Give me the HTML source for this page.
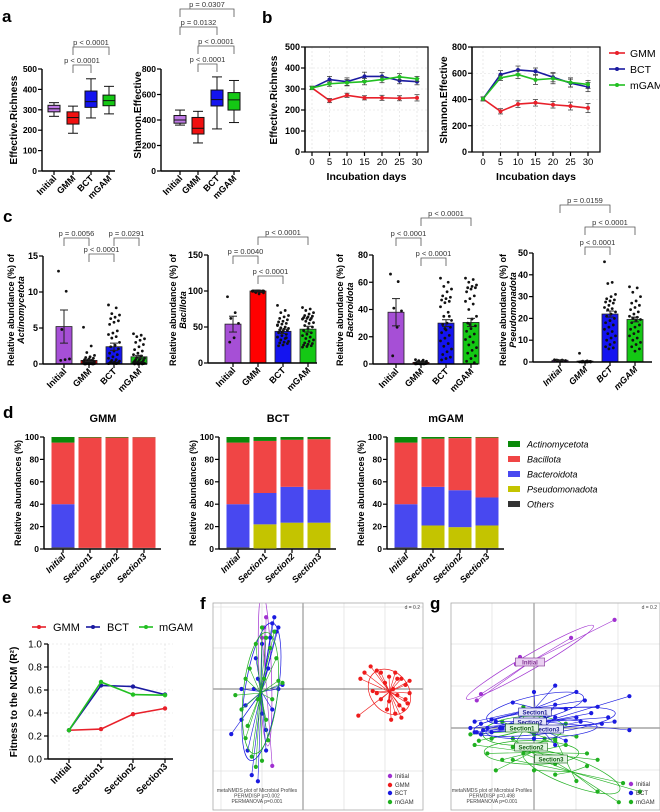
<!DOCTYPE html>
<html><head><meta charset="utf-8">
<style>html,body{margin:0;background:#fff;width:660px;height:812px;overflow:hidden}svg{display:block;font-family:"Liberation Sans",Arial,sans-serif}</style>
</head><body>
<svg id="fig" width="660" height="812" viewBox="0 0 660 812"></svg>
<script>
// ---------- DATA ----------
const groups=['Initial','GMM','BCT','mGAM'];
// panel a
const richMin=[268,185,260,280], richQ1=[290,230,312,320], richMed=[305,262,340,345], richQ3=[322,290,392,372], richMax=[335,318,452,415];
const shanMin=[360,220,330,380], shanQ1=[375,290,510,478], shanMed=[400,335,560,558], shanQ3=[435,420,635,615], shanMax=[478,468,738,710];
// panel b
const days=[0,5,10,15,20,25,30];
const richGMM=[305,245,270,258,258,256,258], richBCT=[305,345,335,360,360,340,335], richMGAM=[305,325,330,335,345,358,348];
const richGMMse=[8,10,10,10,12,12,15], richBCTse=[8,15,18,20,18,15,15], richMGAMse=[8,12,15,15,15,15,12];
const shanGMM=[405,310,365,375,360,350,335], shanBCT=[405,590,625,615,570,525,495], shanMGAM=[405,565,590,550,560,530,515];
const shanGMMse=[15,20,25,25,25,30,35], shanBCTse=[15,30,30,25,35,30,35], shanMGAMse=[15,20,30,35,40,35,30];
// panel c
const actMean=[5.2,0.5,2.4,1.0], actSem=[2.3,0.15,0.5,0.2];
const bacMean=[54,100,44,47], bacSem=[11,0.3,3,4];
const bctdMean=[38,1.2,30,30.5], bctdSem=[10,0.3,2.5,3];
const pseMean=[0.8,0.4,22,19.5], pseSem=[0.2,0.1,1.4,1.1];
const actDots=[[12.9,10.1,4.8,0.7,0.6,0.5],[5.1,2.5,1.6,1.2,1.0,0.9,0.8,0.7,0.6,0.5,0.5,0.4,0.4,0.3,0.3,0.3,0.2,0.2,0.2,0.1,0.1,0.1,0.1,0.05,0.05,0.05,0.05,0,0,0,0,0],[8.2,7.8,7.0,6.8,6.5,6.3,6.0,5.8,5.5,4.6,4.3,4.1,3.8,3.6,3.0,2.6,2.4,2.1,1.8,1.5,1.3,1.0,0.8,0.6,0.5,0.4,0.3,0.3,0.2,0.2,0.1,0.1,0.1,0.05,0.05],[4.2,4.0,3.8,3.5,3.3,3.0,2.7,2.4,2.0,1.8,1.5,1.3,1.1,0.9,0.8,0.7,0.6,0.5,0.5,0.4,0.3,0.3,0.2,0.2,0.2,0.1,0.1,0.1,0.05,0.05,0,0,0]];
const bacDots=[[92,70,62,55,35,29],[100,100,99.8,99.9,100,99.5,99.7,100,99.9,99.6,100,99.8,99.4,100,99.9,100,99.7,99.8,100,99.9,99.5,100,99.6,99.8,98,97.5,96,100,99.9,100],[80,73,70,66,64,62,60,58,57,55,54,52,50,49,48,47,46,45,44,42,40,38,36,34,32,30,29,28,27,25,24,35,43,53],[77,75,73,70,68,66,65,64,63,62,62,61,60,58,56,55,52,50,48,45,42,40,38,36,34,32,30,28,27,26,25,24,23,22]];
const bctdDots=[[66,60.5,41,39,27,6],[3.2,2.8,2.5,2,1.8,1.5,1.3,1.2,1,1,0.8,0.7,0.6,0.5,0.5,0.4,0.3,0.3,0.2,0.2,0.1,0.1,0.1,0.1],[63,60,57,55,53,50,49,48,47,46,45,42,38,35,32,30,29,27,25,23,21,19,17,15,13,11,9,7,5,4,3,35,26],[63,62,60,58,57,56,56,55,53,50,48,46,44,40,35,33,30,28,26,24,22,20,18,16,14,12,10,8,6,4,2,1,29]];
const pseDots=[[1.0,0.9,0.8,0.7,0.6,0.9],[4,0.5,0.4,0.3,0.3,0.2,0.2,0.1,0.1,0.1,0.05,0.05,0,0,0,0,0],[46,36.5,36,31,30,29,28.5,28,27.5,27,26,25,24.5,24,23,22,21,20,19,18,17,16,15,14,13,12,11,10,9,8,7,6.5,6],[34.5,34,32,30,28,27,26,25,24,23,22,21,20.5,20,19.5,19,18,17,16,15,14,13,12,11,10,9,8,7,6,5]];
// panel d (order bottom -> top)
const stackCats=['Initial','Section1','Section2','Section3'];
const taxa=['Others','Pseudomonadota','Bacteroidota','Bacillota','Actinomycetota'];
const gmmOthers=[1.5,1,1,1], gmmPseudo=[0,0,0,0], gmmBactero=[38.5,0,0,0], gmmBacillota=[55,98.5,98.5,98.8], gmmActino=[5,0.5,0.5,0.2];
const bctOthers=[1.5,0.5,1,1], bctPseudo=[0,21.5,22.5,22.5], bctBactero=[38.5,28,32,29.5], bctBacillota=[55,46.5,42,45], bctActino=[5,3.5,2.5,2];
const mgamOthers=[1.5,1,1,1], mgamPseudo=[0,20,18.5,20], mgamBactero=[38.5,34.5,33,25], mgamBacillota=[55,43,46.5,53.5], mgamActino=[5,1.5,1,0.5];
// panel e
const ncmCats=['Initial','Section1','Section2','Section3'];
const ncmGMM=[0.25,0.26,0.39,0.44], ncmBCT=[0.25,0.64,0.63,0.56], ncmMGAM=[0.25,0.67,0.56,0.555];
// panel f (NMDS units)
const fInitX=[-0.15,-0.2,-0.18,-0.17,-0.22,-0.19], fInitY=[-0.375,0.25,0.35,0.1,-0.05,0.3];
const fGmmX=[0.28,0.3,0.33,0.36,0.38,0.4,0.42,0.45,0.48,0.5,0.52,0.5,0.47,0.45,0.43,0.41,0.38,0.36,0.44,0.46,0.49,0.52,0.46,0.42,0.27,0.34,0.48,0.51];
const fGmmY=[0.05,0.08,0.11,0.09,0.08,0.03,0.06,0.08,0.05,0.02,-0.02,-0.05,-0.08,-0.12,-0.15,-0.1,-0.05,-0.02,0.0,-0.03,-0.1,0.04,0.05,-0.06,-0.13,-0.01,-0.14,-0.07];
const fBctX=[-0.35,-0.3,-0.27,-0.25,-0.22,-0.18,-0.15,-0.12,-0.12,-0.14,-0.15,-0.16,-0.2,-0.22,-0.24,-0.1,-0.3,-0.2,-0.17,-0.13,-0.28,-0.18,-0.23];
const fBctY=[-0.22,-0.15,-0.3,-0.42,-0.45,-0.2,-0.1,0.0,0.3,0.35,0.32,0.25,0.22,0.05,0.0,0.02,0.0,-0.12,0.1,0.28,-0.08,-0.3,0.15];
const fGamX=[-0.33,-0.3,-0.28,-0.25,-0.23,-0.2,-0.18,-0.15,-0.1,-0.12,-0.16,-0.18,-0.2,-0.23,-0.26,-0.28,-0.22,-0.14,-0.19,-0.27,-0.13,-0.17];
const fGamY=[-0.03,-0.1,-0.24,-0.33,-0.38,-0.35,-0.15,-0.05,0.03,0.04,0.2,0.25,0.3,0.22,0.1,0.05,-0.05,0.28,0.05,-0.18,0.15,-0.25];
// panel g
const gInitX=[0.38,0.175,-0.066,-0.085,-0.25,-0.27], gInitY=[0.51,0.425,0.335,0.30,0.16,0.13];
const gB1X=[-0.28,-0.25,-0.2,-0.1,0.0,0.1,0.2,0.24,0.3,0.15,0.05,-0.15], gB1Y=[0.03,0.02,0.04,0.12,0.17,0.2,0.17,0.13,0.1,0.09,0.06,0.0];
const gB2X=[-0.3,-0.27,-0.22,-0.18,0.1,0.2,0.27,0.35,0.45,0.45,0.0,-0.25], gB2Y=[0.0,-0.02,0.0,0.03,0.11,0.05,0.07,0.05,0.15,-0.01,-0.05,-0.03];
const gB3X=[-0.28,-0.24,-0.2,-0.16,0.1,0.22,0.32,0.38,0.1,0.15,0.0], gB3Y=[-0.02,-0.01,-0.02,0.0,0.05,0.03,0.02,0.03,-0.08,-0.06,-0.01];
const gG1X=[-0.3,-0.26,-0.2,-0.15,-0.05,0.05,0.15,0.2,0.1,-0.1,0.0], gG1Y=[-0.03,-0.06,-0.05,0.03,0.1,0.07,0.02,-0.04,-0.06,-0.09,-0.03];
const gG2X=[-0.28,-0.22,-0.15,-0.05,0.05,0.15,0.25,0.3,0.1,-0.1,-0.18], gG2Y=[-0.08,-0.12,-0.15,-0.1,-0.05,-0.08,-0.12,-0.15,-0.17,-0.05,-0.2];
const gG3X=[-0.1,0.0,0.1,0.2,0.3,0.4,0.42,0.5,0.0,-0.05,0.25,0.1], gG3Y=[-0.15,-0.2,-0.22,-0.25,-0.3,-0.35,-0.26,-0.3,-0.1,-0.12,-0.18,-0.05];

// ---------- HELPERS ----------
const NS='http://www.w3.org/2000/svg';
const root=document.getElementById('fig');
function mk(tag,attrs,parent){const e=document.createElementNS(NS,tag);for(const k in attrs)e.setAttribute(k,attrs[k]);(parent||root).appendChild(e);return e;}
function nm(e,name){
  
  
  return e;}
function grp(name,parent){const g=mk('g',{},parent);nm(g,name);return g;}
function line(p,x1,y1,x2,y2,st,w,dash){const l=mk('line',{x1:x1,y1:y1,x2:x2,y2:y2,stroke:st||'#000','stroke-width':w||1},p);if(dash)l.setAttribute('stroke-dasharray',dash);return l;}
function text(p,x,y,s,o){o=o||{};const t=mk('text',{x:x,y:y,'font-size':o.size||9,'font-weight':o.weight||'bold','text-anchor':o.anchor||'middle',fill:o.fill||'#000','font-style':o.style||'normal'},p);if(o.rot!=null)t.setAttribute('transform','rotate('+o.rot+' '+x+' '+y+')');t.textContent=s;return t;}
function lin(d0,d1,r0,r1){return v=>r0+(v-d0)/(d1-d0)*(r1-r0);}
function yAxis(p,x,y,max,step,size){line(p,x,y(max),x,y(0),'#000',1.4);for(let v=0;v<=max+1e-9;v+=step){line(p,x-4,y(v),x,y(v),'#000',1.2);const t=text(p,x-5,y(v)+3,String(Math.round(v*10)/10),{anchor:'end',size:size||9});nm(t,'y-tick-label');}}
function bracket(p,x1,x2,y,label){const pa=mk('path',{d:`M${x1} ${y+8}V${y}H${x2}V${y+8}`,fill:'none',stroke:'#555','stroke-width':0.8},p);nm(pa,'significance-bracket');const t=text(p,(x1+x2)/2,y-2,label,{size:7.5,weight:'normal',fill:'#333'});nm(t,'p-value-label');}
function catLabels(p,centers,y0,labels,style,size){labels.forEach((s,i)=>{const t=text(p,centers[i]+3,y0+8,s,{anchor:'end',rot:-45,size:size||9,style:style||'normal'});nm(t,'x-tick-label');});}
function panelLetter(x,y,s){const t=text(root,x,y,s,{size:17,anchor:'start'});nm(t,'panel-label');}

// ---------- PANEL A ----------
const boxFill=['#c07ae6','#f01010','#1414ee','#14c814'];
function boxPanel(name,axisX,axisEnd,centers,ymax,step,mn,q1,md,q3,mx,ylab,ylx,yly){
  const g=grp(name);const y=lin(0,ymax,171,69);
  yAxis(g,axisX,y,ymax,step,8.5);
  line(g,axisX,171,axisEnd,171,'#000',1.4);
  centers.forEach((c,i)=>{
    line(g,c,171,c,175,'#000',1.2);
    const w=line(g,c,y(mn[i]),c,y(mx[i]),'#111',1);nm(w,'whisker');
    line(g,c-5,y(mn[i]),c+5,y(mn[i]),'#111',1);line(g,c-5,y(mx[i]),c+5,y(mx[i]),'#111',1);
    const r=mk('rect',{x:c-6,y:y(q3[i]),width:12,height:y(q1[i])-y(q3[i]),fill:boxFill[i],stroke:'#111','stroke-width':1},g);nm(r,'box-'+groups[i].toLowerCase());
    line(g,c-6,y(md[i]),c+6,y(md[i]),'#111',1);
  });
  catLabels(g,centers,171,groups);
  const t=text(g,ylx,yly,ylab,{size:10,rot:-90});nm(t,'y-axis-title');
  return g;
}
panelLetter(2,22,'a');
const a1=boxPanel('richness-boxplot',42,115,[54,73,91,109],500,100,richMin,richQ1,richMed,richQ3,richMax,'Effective.Richness',17,120);
bracket(a1,73,91,65,'p < 0.0001');bracket(a1,73,109,47,'p < 0.0001');
const a2=boxPanel('shannon-boxplot',161,240,[180,198,217,234],800,200,shanMin,shanQ1,shanMed,shanQ3,shanMax,'Shannon.Effective',141,115);
bracket(a2,198,217,64,'p < 0.0001');bracket(a2,198,234,46,'p < 0.0001');bracket(a2,180,217,27,'p = 0.0132');bracket(a2,180,234,9,'p = 0.0307');

// ---------- PANEL B ----------
const lineCols={GMM:'#e8202a',BCT:'#1a1aa0',mGAM:'#22c022'};
function linePanel(name,fx0,fx1,x0px,x30px,ymax,step,series,ylab,ylx){
  const g=grp(name);const y=lin(0,ymax,152,47);const x=lin(0,30,x0px,x30px);
  for(let v=0;v<=ymax;v+=step)line(g,fx0,y(v),fx1,y(v),'#ddd',0.6,'2,2');
  days.forEach(d=>line(g,x(d),47,x(d),152,'#ddd',0.6,'2,2'));
  const fr=mk('rect',{x:fx0,y:47,width:fx1-fx0,height:105,fill:'none',stroke:'#000','stroke-width':1.2},g);nm(fr,'plot-frame');
  yAxis(g,fx0,y,ymax,step);
  days.forEach(d=>{line(g,x(d),152,x(d),156,'#000',1.2);const t=text(g,x(d),165,String(d),{weight:'normal',size:9.5});nm(t,'x-tick-label');});
  series.forEach(s=>{
    const sg=grp('series-'+s.name.toLowerCase(),g);
    const pl=mk('polyline',{points:days.map((d,i)=>x(d)+','+y(s.v[i])).join(' '),fill:'none',stroke:lineCols[s.name],'stroke-width':1.6},sg);nm(pl,'line');
    days.forEach((d,i)=>{const e1=line(sg,x(d),y(s.v[i]-s.e[i]),x(d),y(s.v[i]+s.e[i]),'#444',0.8);nm(e1,'error-bar');
      line(sg,x(d)-2.5,y(s.v[i]-s.e[i]),x(d)+2.5,y(s.v[i]-s.e[i]),'#444',0.8);line(sg,x(d)-2.5,y(s.v[i]+s.e[i]),x(d)+2.5,y(s.v[i]+s.e[i]),'#444',0.8);
      const c=mk('circle',{cx:x(d),cy:y(s.v[i]),r:2,fill:lineCols[s.name]},sg);nm(c,'point');});
  });
  const t=text(g,ylx,100,ylab,{size:10,rot:-90});nm(t,'y-axis-title');
  const xt=text(g,(fx0+fx1)/2,180,'Incubation days',{size:10.5});nm(xt,'x-axis-title');
}
panelLetter(262,23,'b');
linePanel('richness-timecourse',305,428,312,417,500,100,[{name:'GMM',v:richGMM,e:richGMMse},{name:'BCT',v:richBCT,e:richBCTse},{name:'mGAM',v:richMGAM,e:richMGAMse}],'Effective.Richness',277);
linePanel('shannon-timecourse',472,600,483,588,800,200,[{name:'GMM',v:shanGMM,e:shanGMMse},{name:'BCT',v:shanBCT,e:shanBCTse},{name:'mGAM',v:shanMGAM,e:shanMGAMse}],'Shannon.Effective',447);
{const lg=grp('timecourse-legend');['GMM','BCT','mGAM'].forEach((n,i)=>{const yy=53+i*16;line(lg,609,yy,625,yy,lineCols[n],1.6);mk('circle',{cx:617,cy:yy,r:2,fill:lineCols[n]},lg);const t=text(lg,630,yy+4,n,{anchor:'start',weight:'normal',size:10.5});nm(t,'legend-entry');});}

// ---------- PANEL C ----------
const barFill=['#a64fd6','#ff0000','#1414f0','#14c814'];
function barPanel(name,axisX,axisEnd,centers,y0,yTop,max,step,means,sems,dots,lab2,ylx,italicLabels){
  const g=grp(name);const y=lin(0,max,y0,yTop);
  yAxis(g,axisX,y,max,step,9);
  centers.forEach((c,i)=>{
    const r=mk('rect',{x:c-8,y:y(means[i]),width:16,height:y0-y(means[i]),fill:barFill[i],stroke:'#222','stroke-width':0.8},g);nm(r,'bar-'+groups[i].toLowerCase());
    dots[i].forEach((v,j)=>{const dx=(((j*7)%11)-5)*1.1;const d=mk('circle',{cx:c+dx,cy:y(v),r:1.4,fill:'#111'},g);nm(d,'sample-dot');});
    const e=line(g,c,y(means[i]-sems[i]),c,y(means[i]+sems[i]),'#222',1);nm(e,'error-bar');
    line(g,c-4,y(means[i]+sems[i]),c+4,y(means[i]+sems[i]),'#222',1);line(g,c-4,y(means[i]-sems[i]),c+4,y(means[i]-sems[i]),'#222',1);
    line(g,c,y0,c,y0+4,'#000',1.2);
  });
  line(g,axisX,y0,axisEnd,y0,'#000',1.4);
  catLabels(g,centers,y0,groups,italicLabels?'italic':'normal');
  const cy=310;
  const t1=text(g,ylx,cy,'Relative abundance (%) of',{size:9,rot:-90});nm(t1,'y-axis-title');
  const t2=text(g,ylx+10,cy,lab2,{size:9,rot:-90,style:'italic'});nm(t2,'y-axis-title-taxon');
  return g;
}
panelLetter(3,222,'c');
const c1=barPanel('actinomycetota-bars',43,147,[64,89,114,139],364,256,15,5,actMean,actSem,actDots,'Actinomycetota',14);
bracket(c1,64,89,238,'p = 0.0056');bracket(c1,114,139,238,'p = 0.0291');bracket(c1,89,114,254,'p < 0.0001');
const c2=barPanel('bacillota-bars',208,317,[233,258,283,308],363,255,150,50,bacMean,bacSem,bacDots,'Bacillota',176);
bracket(c2,258,308,237,'p < 0.0001');bracket(c2,233,258,256,'p = 0.0040');bracket(c2,258,283,276,'p < 0.0001');
const c3=barPanel('bacteroidota-bars',373,478,[396,421,446,471],364,255,80,20,bctdMean,bctdSem,bctdDots,'Bacteroidota',343);
bracket(c3,421,471,218,'p < 0.0001');bracket(c3,396,421,238,'p < 0.0001');bracket(c3,421,446,258,'p < 0.0001');
const c4=barPanel('pseudomonadota-bars',533,652,[560,585,610,635],362,253,50,10,pseMean,pseSem,pseDots,'Pseudomonadota',506,true);
bracket(c4,560,610,205,'p = 0.0159');bracket(c4,585,635,227,'p < 0.0001');bracket(c4,585,610,247,'p < 0.0001');

// ---------- PANEL D ----------
const taxCol={Others:'#333333',Pseudomonadota:'#c4c400',Bacteroidota:'#4848f0',Bacillota:'#f04545',Actinomycetota:'#0a8a0a'};
function stackPanel(name,axisX,title,layers){
  const g=grp(name);const y=lin(0,100,549,437);
  yAxis(g,axisX,y,100,20,8.5);
  line(g,axisX,549,axisX+117,549,'#000',1.4);
  const centers=stackCats.map((c,i)=>axisX+19+i*27);
  stackCats.forEach((c,i)=>{
    let acc=0;
    layers.forEach((arr,k)=>{const v=arr[i];const r=mk('rect',{x:centers[i]-11.5,y:y(acc+v),width:23,height:y(acc)-y(acc+v),fill:taxCol[taxa[k]]},g);nm(r,'segment-'+taxa[k].toLowerCase());acc+=v;});
    line(g,centers[i],549,centers[i],553,'#000',1.2);
  });
  catLabels(g,centers,549,stackCats,'italic',9);
  const tt=text(g,axisX+59,422,title,{size:11});nm(tt,'chart-title');
  const yt=text(g,axisX-23,493,'Relative abundances (%)',{size:9,rot:-90});nm(yt,'y-axis-title');
}
panelLetter(3,418,'d');
stackPanel('gmm-composition',44,'GMM',[gmmOthers,gmmPseudo,gmmBactero,gmmBacillota,gmmActino]);
stackPanel('bct-composition',219,'BCT',[bctOthers,bctPseudo,bctBactero,bctBacillota,bctActino]);
stackPanel('mgam-composition',387,'mGAM',[mgamOthers,mgamPseudo,mgamBactero,mgamBacillota,mgamActino]);
{const lg=grp('taxa-legend');['Actinomycetota','Bacillota','Bacteroidota','Pseudomonadota','Others'].forEach((n,i)=>{const yy=444+i*15;const r=mk('rect',{x:508,y:yy-3,width:12,height:6,fill:taxCol[n]},lg);nm(r,'legend-swatch');const t=text(lg,527,yy+3.5,n,{anchor:'start',weight:'normal',style:'italic',size:9});nm(t,'legend-entry');});}

// ---------- PANEL E ----------
panelLetter(2,603,'e');
{const g=grp('ncm-fitness-chart');const y=lin(0,1,759,644);const x=i=>69+i*32;
  for(let v=0.2;v<=1.0001;v+=0.2)line(g,48,y(v),173,y(v),'#ddd',0.6,'2,2');
  ncmCats.forEach((c,i)=>line(g,x(i),644,x(i),759,'#ddd',0.6,'2,2'));
  line(g,48,644,48,759,'#000',1.4);
  for(let k=0;k<=5;k++){const v=k*0.2;line(g,44,y(v),48,y(v),'#000',1.2);const t=text(g,42,y(v)+3.5,v.toFixed(1),{anchor:'end',weight:'normal',size:10});nm(t,'y-tick-label');}
  line(g,48,759,173,759,'#000',1.4);
  ncmCats.forEach((c,i)=>line(g,x(i),759,x(i),763,'#000',1.2));
  catLabels(g,ncmCats.map((c,i)=>x(i)),759,ncmCats,'normal',9.5);
  [['GMM',ncmGMM],['BCT',ncmBCT],['mGAM',ncmMGAM]].forEach(([n,v])=>{const sg=grp('series-'+n.toLowerCase(),g);
    const pl=mk('polyline',{points:v.map((d,i)=>x(i)+','+y(d)).join(' '),fill:'none',stroke:lineCols[n],'stroke-width':1.6},sg);nm(pl,'line');
    v.forEach((d,i)=>{const c=mk('circle',{cx:x(i),cy:y(d),r:2.2,fill:lineCols[n]},sg);nm(c,'point');});});
  const t=text(g,17,702,'Fitness to the NCM (R²)',{size:10,rot:-90});nm(t,'y-axis-title');
  [['GMM',32,53],['BCT',86,107],['mGAM',139,159]].forEach(([n,lx,tx])=>{line(g,lx,627,lx+14,627,lineCols[n],1.6);mk('circle',{cx:lx+7,cy:627,r:2,fill:lineCols[n]},g);const tt=text(g,tx,631,n,{anchor:'start',weight:'normal',size:11});nm(tt,'legend-entry');});
}

// ---------- PANELS F, G ----------
function ordFrame(name,x0,x1,ox,oy,sp){
  const g=grp(name);
  const cid='clip-'+name;const cp=mk('clipPath',{id:cid},g);mk('rect',{x:x0,y:603,width:x1-x0,height:207},cp);
  const inner=mk('g',{'clip-path':'url(#'+cid+')'},g);nm(inner,'plot-area');
  for(let k=-6;k<=6;k++){if(k===0)continue;line(inner,ox+k*sp,603,ox+k*sp,810,'#e2e2e2',0.8);line(inner,x0,oy+k*sp,x1,oy+k*sp,'#e2e2e2',0.8);}
  line(inner,ox,603,ox,810,'#777',0.9);line(inner,x0,oy,x1,oy,'#777',0.9);
  const fr=mk('rect',{x:x0,y:603,width:x1-x0,height:207,fill:'none',stroke:'#aaa','stroke-width':0.8},g);nm(fr,'plot-frame');
  const dt=text(g,x1-3,609,'d = 0.2',{anchor:'end',weight:'normal',size:5,fill:'#444'});nm(dt,'scale-label');
  return inner;
}
function cluster(p,xs,ys,ox,oy,sc,col,name,k){
  const g=grp(name,p);
  const px=xs.map(v=>ox+v*sc), py=ys.map(v=>oy-v*sc);const n=px.length;
  const mx=px.reduce((a,b)=>a+b)/n, my=py.reduce((a,b)=>a+b)/n;
  let a=0,b=0,c=0;for(let i=0;i<n;i++){a+=(px[i]-mx)**2;c+=(py[i]-my)**2;b+=(px[i]-mx)*(py[i]-my);}a/=n;b/=n;c/=n;
  const tr=(a+c)/2, dd=Math.sqrt(Math.max(0,((a-c)/2)**2+b*b));const l1=tr+dd,l2=Math.max(tr-dd,1);
  const ang=0.5*Math.atan2(2*b,a-c)*180/Math.PI;
  const el=mk('ellipse',{cx:mx,cy:my,rx:k*Math.sqrt(l1),ry:k*Math.sqrt(l2),transform:`rotate(${ang} ${mx} ${my})`,fill:'none',stroke:col,'stroke-width':0.7},g);nm(el,'confidence-ellipse');
  for(let i=0;i<n;i++){const s=line(g,mx,my,px[i],py[i],col,0.6);nm(s,'spider-line');}
  for(let i=0;i<n;i++){const d=mk('circle',{cx:px[i],cy:py[i],r:2.1,fill:col},g);nm(d,'sample-point');}
  return [mx,my];
}
function boxLabel(p,x,y,s,col,fill){const w=s.length*3.6+4;const r=mk('rect',{x:x-w/2,y:y-4,width:w,height:8,fill:fill,stroke:col,'stroke-width':0.6},p);nm(r,'cluster-label-box');const t=text(p,x,y+2.3,s,{size:6,fill:col});nm(t,'cluster-label');}
function ordLegend(p,x,ys,items){items.forEach(([n,c],i)=>{const d=mk('circle',{cx:x,cy:ys[i],r:2.2,fill:c},p);nm(d,'legend-marker');const t=text(p,x+5,ys[i]+2,n,{anchor:'start',weight:'normal',size:6,fill:'#333'});nm(t,'legend-entry');});}
function ordNote(p,cx,y,pd){['metaNMDS plot of Microbial Profiles','PERMDISP    p='+pd,'PERMANOVA p=0.001'].forEach((s,i)=>{const t=text(p,cx,y+i*5.5,s,{weight:'normal',size:5,fill:'#444'});nm(t,'stats-note');});}

panelLetter(200,609,'f');
{const f=ordFrame('nmds-media',213,423,303,689,41);const ox=303,oy=689,sc=205;
  cluster(f,fInitX,fInitY,ox,oy,sc,'#a030d0','initial-cluster',1.5);
  cluster(f,fBctX,fBctY,ox,oy,sc,'#1a1ae0','bct-cluster',1.45);
  cluster(f,fGamX,fGamY,ox,oy,sc,'#20b020','mgam-cluster',1.45);
  cluster(f,fGmmX,fGmmY,ox,oy,sc,'#ee1c1c','gmm-cluster',1.45);
  const lg=grp('nmds-media-legend');ordLegend(lg,390,[776,785,793,802],[['Initial','#a030d0'],['GMM','#ee1c1c'],['BCT','#1a1ae0'],['mGAM','#20b020']]);
  ordNote(root,257,792,'0.002');
}
panelLetter(430,609,'g');
{const gp=ordFrame('nmds-sections',451,660,534,728,42);const ox=534,oy=728,sc=212;
  cluster(gp,gInitX,gInitY,ox,oy,sc,'#a030d0','initial-cluster',1.3);
  cluster(gp,gG3X,gG3Y,ox,oy,sc,'#20b020','mgam-section3-cluster',1.2);
  cluster(gp,gG2X,gG2Y,ox,oy,sc,'#20b020','mgam-section2-cluster',1.2);
  cluster(gp,gG1X,gG1Y,ox,oy,sc,'#20b020','mgam-section1-cluster',1.2);
  cluster(gp,gB3X,gB3Y,ox,oy,sc,'#1a1ae0','bct-section3-cluster',1.2);
  cluster(gp,gB2X,gB2Y,ox,oy,sc,'#1a1ae0','bct-section2-cluster',1.2);
  cluster(gp,gB1X,gB1Y,ox,oy,sc,'#1a1ae0','bct-section1-cluster',1.2);
  boxLabel(gp,530,662,'Initial','#803090','#ead0f2');
  boxLabel(gp,535,712,'Section1','#1a1a90','#e6e6fa');
  boxLabel(gp,530,722,'Section2','#1a1a90','#e6e6fa');
  boxLabel(gp,547,729,'Section3','#1a1a90','#e6e6fa');
  boxLabel(gp,522,728,'Section1','#106010','#e2f4e2');
  boxLabel(gp,531,747,'Section2','#106010','#e2f4e2');
  boxLabel(gp,551,759,'Section3','#106010','#e2f4e2');
  const lg=grp('nmds-sections-legend');ordLegend(lg,631,[784,793,802],[['Initial','#a030d0'],['BCT','#1a1ae0'],['mGAM','#20b020']]);
  ordNote(root,492,792,'0.498');
}
</script>
</body></html>
